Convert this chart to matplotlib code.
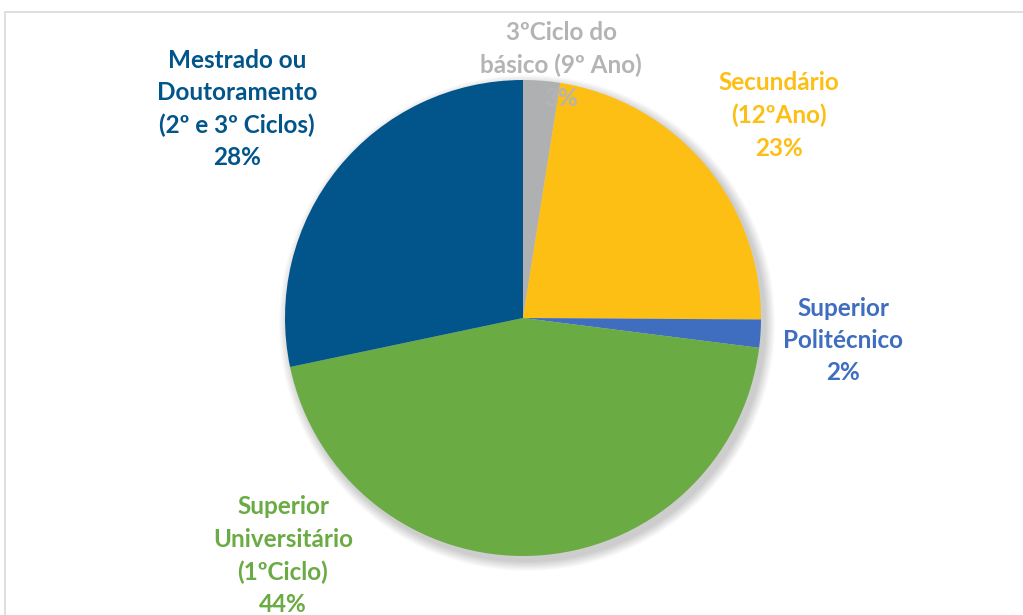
import matplotlib
matplotlib.use("Agg")
import matplotlib.pyplot as plt
from matplotlib.patches import Circle, Rectangle

# data (clockwise from the top)
categories = ["3ºCiclo do\nbásico (9º Ano)", "Secundário\n(12ºAno)", "Superior\nPolitécnico",
              "Superior\nUniversitário\n(1ºCiclo)", "Mestrado ou\nDoutoramento\n(2º e 3º Ciclos)"]
values = [2.5, 22.6, 1.9, 44.7, 28.3]
pct_labels = ["3%", "23%", "2%", "44%", "28%"]
slice_colors = ["#AFB0B1", "#FDBF14", "#3F6DBF", "#6AAB44", "#02558B"]
label_colors = ["#B3B4B5", "#FDBF14", "#3F6DBF", "#6AAB44", "#02558B"]
# label centres in pixels (x, y of first line)
label_pos = [(561, 33), (779, 83), (843, 308), (283, 507), (237, 60)]

W, H = 1023, 615
fig = plt.figure(figsize=(W / 100, H / 100), dpi=100)
ax = fig.add_axes([0, 0, 1, 1])

cx, cy, r = 523, H - 318, 238

# soft shadow
for k in range(10):
    ax.add_patch(Circle((cx + 4, cy - 5), r + 10 - k, color="black", alpha=0.018, lw=0, zorder=1))

ax.pie(values, colors=slice_colors, startangle=90, counterclock=False,
       center=(cx, cy), radius=r, wedgeprops=dict(linewidth=0, zorder=2))

for cat, p, c, (x, y) in zip(categories, pct_labels, label_colors, label_pos):
    lines = cat.split("\n") + [p]
    for i, line in enumerate(lines):
        ax.text(x, H - (y + i * 32.5), line, color=c, fontsize=17.5, fontweight="bold",
                family="Lato", ha="center", va="center", zorder=5)

ax.set_xlim(0, W)
ax.set_ylim(0, H)
ax.set_aspect("auto")
ax.axis("off")

# chart area border
fig.patches.append(Rectangle((5 / W, -0.1), 1.2, 1 - 12 / H + 0.1, transform=fig.transFigure,
                             fill=False, edgecolor="#D9D9D9", lw=1.2))

fig.savefig("out.png", dpi=100)
